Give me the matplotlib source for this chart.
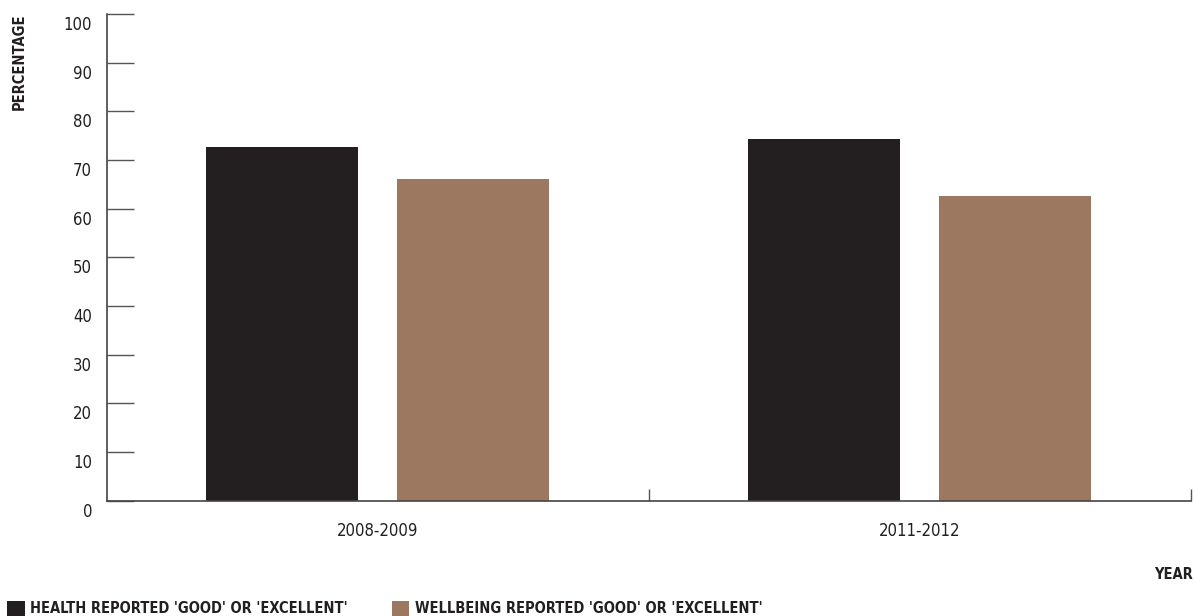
import matplotlib.pyplot as plt
import matplotlib.transforms as mtransforms
import numpy as np

# data
years = ['2008-2009', '2011-2012']
health = [72.8, 74.4]
wellbeing = [66.1, 62.6]
series_labels = ["HEALTH REPORTED 'GOOD' OR 'EXCELLENT'",
                 "WELLBEING REPORTED 'GOOD' OR 'EXCELLENT'"]
colors = ['#231f20', '#9b785f']
yticks = list(range(0, 101, 10))

plt.rcParams['font.family'] = ['DejaVu Sans']
plt.rcParams['font.stretch'] = 'condensed'

fig = plt.figure(figsize=(11.94, 6.16), dpi=100)
ax = fig.add_axes([0.0893, 0.187, 0.908, 0.790])

x = np.arange(len(years))
w = 0.281
off = 0.176
b1 = ax.bar(x - off, health, w, color=colors[0], label=series_labels[0], zorder=2)
b2 = ax.bar(x + off, wellbeing, w, color=colors[1], label=series_labels[1], zorder=2)

ax.set_xlim(-0.5, len(years) - 0.5)
ax.set_ylim(0, 100)

for s in ['top', 'right']:
    ax.spines[s].set_visible(False)
for s in ['left', 'bottom']:
    ax.spines[s].set_color('#444444')
    ax.spines[s].set_linewidth(1.2)

# y ticks pointing into the plot, labels sit a bit below their tick
ax.set_yticks(yticks)
ax.tick_params(axis='y', direction='in', length=19.5, width=1, color='#555555',
               pad=10.5, labelsize=12, labelcolor='#231f20')
shift = mtransforms.ScaledTranslation(0, -0.09, fig.dpi_scale_trans)
for lab in ax.get_yticklabels():
    lab.set_transform(lab.get_transform() + shift)

# group separators as major ticks, year names as minor ticks
ax.set_xticks(np.arange(len(years)) + 0.5)
ax.set_xticklabels([])
ax.tick_params(axis='x', which='major', direction='in', length=9, width=1, color='#555555')
ax.set_xticks(x, minor=True)
ax.set_xticklabels(years, minor=True)
ax.tick_params(axis='x', which='minor', length=0, pad=15, labelsize=12, labelcolor='#231f20')

fig.text(0.016, 0.978, 'PERCENTAGE', rotation=90, ha='center', va='top',
         fontsize=10.5, fontweight='bold', color='#231f20')
fig.text(0.999, 0.068, 'YEAR', ha='right', va='center', fontsize=10.5,
         fontweight='bold', color='#231f20')

fig.legend(handles=[b1, b2], loc='lower left', bbox_to_anchor=(0.006, 0.0), ncol=2,
           frameon=False, borderpad=0, borderaxespad=0,
           handlelength=1.2, handleheight=1.2, handletextpad=0.4,
           columnspacing=3.0, prop={'size': 10.5, 'weight': 'bold'}, labelcolor='#231f20')

fig.savefig('out.png', dpi=100)
